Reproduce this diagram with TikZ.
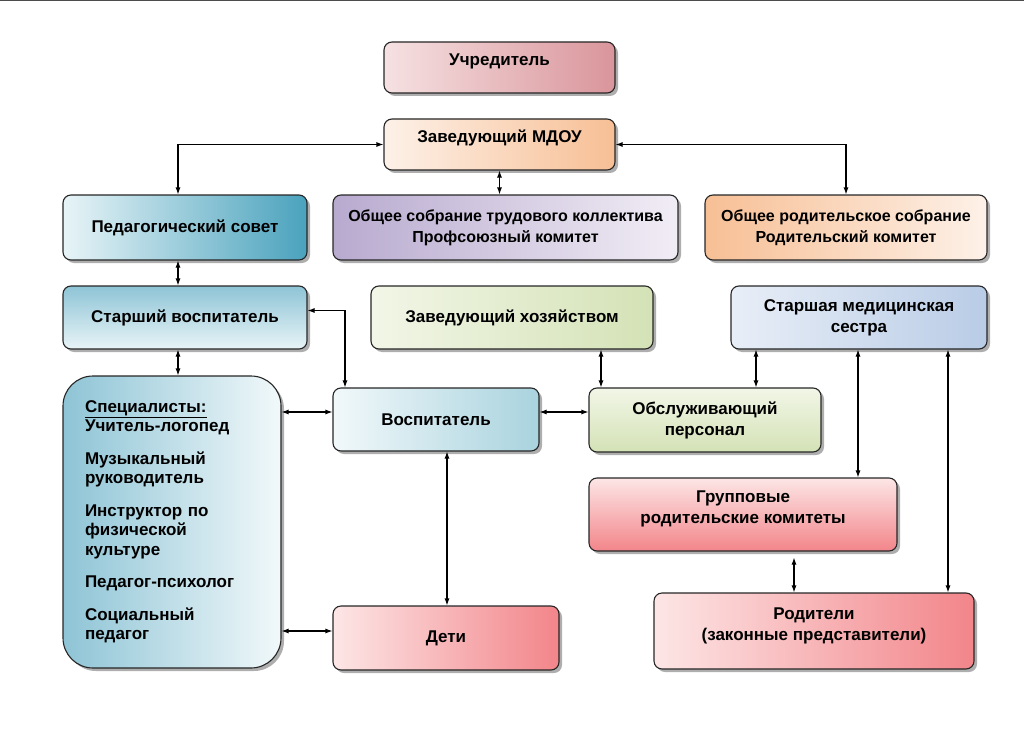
\documentclass[tikz,border=0pt]{standalone}
\usepackage{fontspec}
\setmainfont{Liberation Sans}
\usepackage{xcolor}
\usetikzlibrary{arrows.meta,shadows}

\definecolor{roseA}{HTML}{F6E1E2}
\definecolor{roseB}{HTML}{D9959B}
\definecolor{peachA}{HTML}{FDF1E8}
\definecolor{peachB}{HTML}{F7BF95}
\definecolor{blueA}{HTML}{E8F4F7}
\definecolor{blueB}{HTML}{4AA2BD}
\definecolor{blueC}{HTML}{8EC4D6}
\definecolor{blueD}{HTML}{A9D3DE}
\definecolor{lilacA}{HTML}{B8AACF}
\definecolor{lilacB}{HTML}{F1EDF5}
\definecolor{greenA}{HTML}{F2F6E7}
\definecolor{greenB}{HTML}{D4E2B6}
\definecolor{skyA}{HTML}{E8EEF7}
\definecolor{skyB}{HTML}{B9CCE6}
\definecolor{pinkA}{HTML}{FDE6E6}
\definecolor{pinkB}{HTML}{F2858A}

\begin{document}
\begin{tikzpicture}[x=1pt, y=-1pt, >={Latex[length=7pt,width=5pt]},
    box/.style={draw=black!85, line width=1.1pt, rounded corners=8pt, inner sep=0pt,
        align=center, font=\fontsize{17}{21}\selectfont\bfseries,
        drop shadow={shadow xshift=3pt, shadow yshift=-3pt, opacity=0.45, fill=black!70}},
    narrow/.style={font=\fontsize{16}{21}\selectfont\bfseries},
    raised/.style={text height=12pt, text depth=16pt},
    link/.style={<->, line width=1.1pt}]
\useasboundingbox (0,0) rectangle (1024,738);
\draw[black!70, line width=2pt] (0,0) -- (1024,0);

% upper rows
\node[box, raised, left color=roseA, right color=roseB, minimum width=231pt, minimum height=51pt] (uchr) at (499.5,67.5) {Учредитель};
\node[box, raised, left color=peachA, right color=peachB, minimum width=231pt, minimum height=51pt] (zav) at (499.5,144.5) {Заведующий МДОУ};
\node[box, left color=blueA, right color=blueB, minimum width=244pt, minimum height=65pt] (pedsov) at (185,227.5) {Педагогический совет};
\node[box, narrow, left color=lilacA, right color=lilacB, minimum width=345pt, minimum height=65pt] (sobr) at (505.5,227.5) {Общее собрание трудового коллектива\\Профсоюзный комитет};
\node[box, narrow, left color=peachB, right color=peachA, minimum width=282pt, minimum height=65pt] (rodsobr) at (846,227.5) {Общее родительское собрание\\Родительский комитет};
\node[box, top color=blueC, bottom color=blueA, minimum width=244pt, minimum height=63pt] (starvos) at (185,317.5) {Старший воспитатель};
\node[box, left color=greenA, right color=greenB, minimum width=282pt, minimum height=63pt] (zavhoz) at (512,317.5) {Заведующий хозяйством};
\node[box, left color=skyA, right color=skyB, minimum width=256pt, minimum height=63pt] (medsestra) at (859,317.5) {Старшая медицинская\\сестра};

% lower rows
\node[box, rounded corners=30pt, left color=blueC, right color=blueA!60, minimum width=218pt, minimum height=292pt,
    text width=174pt, align=left, font=\fontsize{17}{19.5}\selectfont\bfseries] (spec) at (172,522)
    {\underline{Специалисты:}\\Учитель-логопед\\[13pt]Музыкальный\\руководитель\\[13pt]Инструктор по\\физической\\культуре\\[13pt]Педагог-психолог\\[13pt]Социальный\\педагог};
\node[box, left color=blueA!60, right color=blueD, minimum width=206pt, minimum height=63pt] (vosp) at (436,419.5) {Воспитатель};
\node[box, top color=greenA, bottom color=greenB, minimum width=232pt, minimum height=64pt] (obsl) at (705,420) {Обслуживающий\\персонал};
\node[box, text depth=14pt, shading angle=200, top color=pinkA, bottom color=pinkB, minimum width=308pt, minimum height=73pt] (grupp) at (743,514.5) {Групповые\\родительские комитеты};
\node[box, text depth=14pt, left color=pinkA, right color=pinkB, minimum width=320pt, minimum height=76pt] (rodit) at (814,631) {Родители\\(законные представители)};
\node[box, left color=pinkA, right color=pinkB, minimum width=226pt, minimum height=64pt] (deti) at (446,638) {Дети};

% connector ends
\coordinate (vospW) at ([yshift=7.5pt]vosp.west);
\coordinate (vospE) at ([yshift=7.5pt]vosp.east);
\coordinate (detiW) at ([yshift=7pt]deti.west);
\coordinate (hozS) at ([xshift=89pt]zavhoz.south);
\coordinate (medA) at ([xshift=-103pt]medsestra.south);
\coordinate (medB) at ([xshift=-1pt]medsestra.south);
\coordinate (medC) at ([xshift=89pt]medsestra.south);
\coordinate (vospS) at ([xshift=11pt]vosp.south);
\coordinate (roditN) at ([xshift=-20pt]rodit.north);

% connectors
\draw[link] (zav.west) -| ([xshift=-7pt]pedsov.north);
\draw[link] (zav.east) -| (rodsobr.north);
\draw[link] (zav.south) -- (zav.south |- sobr.north);
\draw[link] ([xshift=-7pt]pedsov.south) -- ([xshift=-7pt]starvos.north);
\draw[link] ([xshift=-7pt]starvos.south) -- ([xshift=6pt]spec.north);
\draw[link] ([yshift=7pt]starvos.east) -| ([xshift=-91pt]vosp.north);
\draw[link] (spec.east |- vospW) -- (vospW);
\draw[link] (vospE) -- (vospE -| obsl.west);
\draw[link] (hozS) -- (hozS |- obsl.north);
\draw[link] (medA) -- (medA |- obsl.north);
\draw[link] (medB) -- (medB |- grupp.north);
\draw[link] (medC) -- (medC |- rodit.north);
\draw[link] (vospS) -- (vospS |- deti.north);
\draw[link] (spec.east |- detiW) -- (detiW);
\draw[link, shorten <=6pt] (roditN |- grupp.south) -- (roditN);
\end{tikzpicture}
\end{document}
